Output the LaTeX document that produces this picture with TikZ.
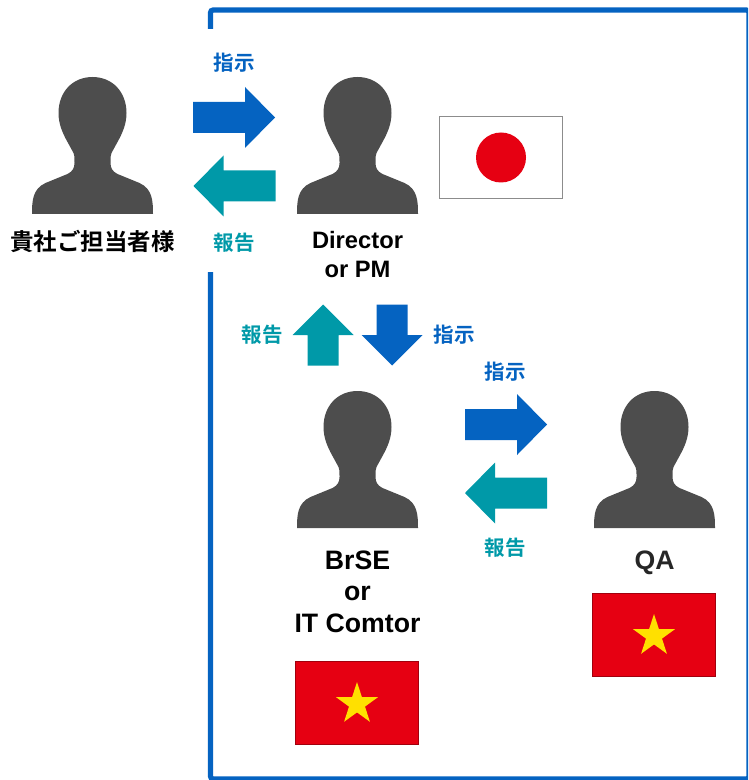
\documentclass[tikz,border=0pt]{standalone}
\usepackage{fontspec}
\setmainfont{Liberation Sans}
\newfontfamily\cjk{Noto Sans CJK JP}[BoldFont={* Bold}]
\usetikzlibrary{shapes.geometric}
\definecolor{blueA}{HTML}{0563C1}
\definecolor{tealA}{HTML}{0099A8}
\definecolor{personA}{HTML}{4D4D4D}
\definecolor{redA}{HTML}{E60012}
\definecolor{yellowA}{HTML}{FFE000}
\tikzset{
  frameline/.style={draw=blueA,line width=3.9pt,rounded corners=2pt},
  cue/.style={inner sep=0pt,font=\cjk\bfseries\fontsize{15.4pt}{18pt}\selectfont},
  cueblue/.style={cue,text=blueA},
  cueteal/.style={cue,text=tealA},
  role/.style={inner sep=0pt,anchor=base,font=\bfseries\fontsize{17.8pt}{21pt}\selectfont},
  rolelarge/.style={inner sep=0pt,anchor=base,font=\bfseries\fontsize{20pt}{24pt}\selectfont},
  rolecjk/.style={inner sep=0pt,font=\cjk\bfseries\fontsize{17.6pt}{21pt}\selectfont},
  vnflag/.style={fill=redA,draw=redA!70!black,line width=0.7pt},
  vnstar/.style={star,star points=5,star point ratio=2.618,fill=yellowA,draw=none,inner sep=0pt,minimum size=33pt},
  person/.pic={
    \fill[personA] (-60.5,0)
      .. controls (-60.5,-13) and (-60,-25) .. (-47,-31)
      -- (-25,-40)
      .. controls (-20,-42.5) and (-18,-46) .. (-18,-51)
      .. controls (-18,-57) and (-18,-59) .. (-19,-61)
      -- (-25,-72)
      .. controls (-30,-81) and (-34,-90) .. (-34,-101)
      .. controls (-34,-122) and (-20,-137) .. (0,-137)
      .. controls (20,-137) and (34,-122) .. (34,-101)
      .. controls (34,-90) and (30,-81) .. (25,-72)
      -- (19,-61)
      .. controls (18,-59) and (18,-57) .. (18,-51)
      .. controls (18,-46) and (20,-42.5) .. (25,-40)
      -- (47,-31)
      .. controls (60,-25) and (60.5,-13) .. (60.5,0) -- cycle;
  },
  blockarrow/.pic={
    \fill[pic actions] (-41,-15.5) -- (11,-15.5) -- (11,-30.5) -- (41,0) -- (11,30.5) -- (11,15.5) -- (-41,15.5) -- cycle;
  },
  shortarrow/.pic={
    \fill[pic actions] (-30.5,-15.5) -- (0,-15.5) -- (0,-30.5) -- (30.5,0) -- (0,30.5) -- (0,15.5) -- (-30.5,15.5) -- cycle;
  },
}
\begin{document}
\begin{tikzpicture}[x=0.75pt,y=-0.75pt]
\useasboundingbox (0,0) rectangle (748,780);
\clip (0,0) rectangle (748,780);
% frame
\draw[frameline] (210.5,29) -- (210.5,10) -- (749,10) -- (749,779) -- (210.5,779) -- (210.5,272);
% people
\pic at (92.5,214) {person};
\pic at (357.5,214) {person};
\pic at (357.5,528) {person};
\pic at (654.5,528) {person};
% arrows
\pic[fill=blueA] at (234,117.5) {blockarrow};
\pic[fill=tealA,rotate=180] at (234.5,186) {blockarrow};
\pic[fill=tealA,rotate=90] at (323,335) {shortarrow};
\pic[fill=blueA,rotate=-90] at (392,335) {shortarrow};
\pic[fill=blueA] at (506,424.5) {blockarrow};
\pic[fill=tealA,rotate=180] at (506,493) {blockarrow};
% labels
\node[cueblue] (l1) at (234,62.5) {指示};
\node[cueteal] (l2) at (234,242.5) {報告};
\node[cueteal] (l3) at (262,334.5) {報告};
\node[cueblue] (l4) at (454,334.5) {指示};
\node[cueblue] (l5) at (505,371.5) {指示};
\node[cueteal] (l6) at (505,547.5) {報告};
\node[rolecjk] (client) at (92.5,241) {貴社ご担当者様};
\node[role] (dir) at (357.5,248.3) {Director};
\node[role] (pm) at (357.5,277.3) {or PM};
\node[rolelarge] (brse) at (357.5,569.3) {BrSE};
\node[rolelarge] (or) at (357.5,600.7) {or};
\node[rolelarge] (it) at (357.5,632.7) {IT Comtor};
\node[rolelarge,text=black!85] (qa) at (654.5,569.3) {QA};
% flags
\draw[draw=black!45,line width=0.7pt,fill=white] (439.5,116.5) rectangle (562.5,198.5);
\fill[redA] (501,157.5) circle[radius=25];
\draw[vnflag] (295.5,661.5) rectangle (418.5,744.5);
\node[vnstar] (s1) at (357,704) {};
\draw[vnflag] (592.5,593.5) rectangle (715.5,676.5);
\node[vnstar] (s2) at (654,636) {};
\end{tikzpicture}
\end{document}
